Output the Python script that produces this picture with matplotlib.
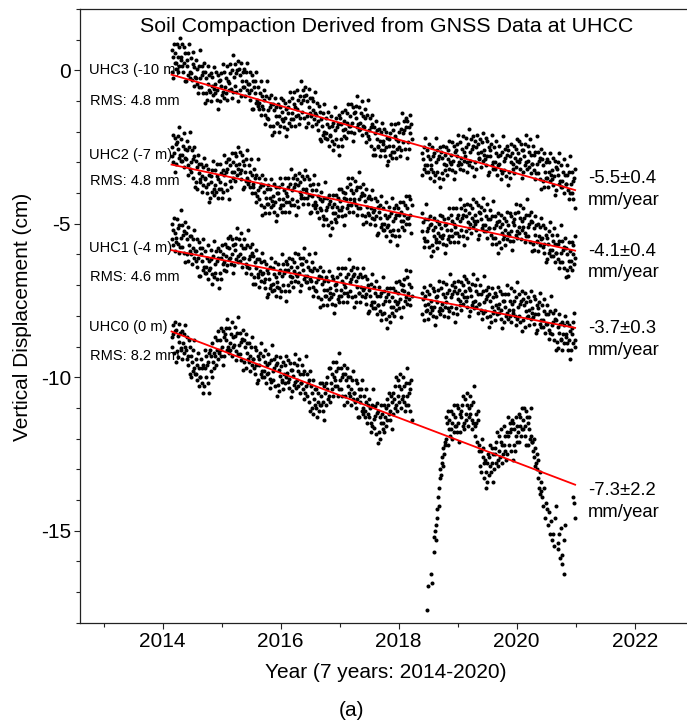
import numpy as np
import matplotlib
matplotlib.use('Agg')
import matplotlib.pyplot as plt

plt.rcParams['font.family'] = ['Liberation Sans', 'DejaVu Sans']
plt.rcParams['axes.unicode_minus'] = False

# observation window shared by the four stations (decimal year)
t_start, t_end = 2014.15, 2020.99

# vertical displacement (cm), 8 solutions per row (~1 month), nan = no solution
uhc3_txt = """
0.65 -0.05 0.45 -0.25 0.85 0.25 0.55 0.05
0.25 0.85 -0.05 0.45 0.75 0.15 1.05 0.35
0.45 0.15 0.85 -0.05 0.25 0.75 -0.35 0.55
-0.35 0.35 0.15 0.55 -0.15 0.85 -0.05 -0.25
0.4 -0.1 -0.3 0.2 0.6 -0.5 0.1 -0.2
-0.25 0.35 0.05 -0.45 -0.75 0.15 -0.55 0.65
-0.25 -0.55 0.15 -0.15 -0.75 -0.05 0.25 -1.05
-0.05 -0.75 -0.25 -0.95 0.15 -0.45 -0.15 -0.65
-0.7 -0.1 -1.0 -0.5 -0.2 -0.8 0.1 -0.6
-0.45 -0.75 -0.05 -0.95 -0.65 -0.15 -1.25 -0.35
-1.0 -0.3 -0.5 -0.1 -0.8 0.2 -0.7 -0.9
-0.05 -0.55 -0.75 -0.25 0.15 -0.95 -0.35 -0.65
-0.4 0.2 -0.1 -0.6 -0.9 0.0 -0.7 0.5
-0.2 -0.5 0.2 -0.1 -0.7 0.0 0.3 -1.0
0.05 -0.65 -0.15 -0.85 0.25 -0.35 -0.05 -0.55
-0.55 0.05 -0.85 -0.35 -0.05 -0.65 0.25 -0.45
-0.45 -0.75 -0.05 -0.95 -0.65 -0.15 -1.25 -0.35
-1.25 -0.55 -0.75 -0.35 -1.05 -0.05 -0.95 -1.15
-0.55 -1.05 -1.25 -0.75 -0.35 -1.45 -0.85 -1.15
-1.25 -0.65 -0.95 -1.45 -1.75 -0.85 -1.55 -0.35
-1.3 -1.6 -0.9 -1.2 -1.8 -1.1 -0.8 -2.1
-1.1 -1.8 -1.3 -2.0 -0.9 -1.5 -1.2 -1.7
-1.7 -1.1 -2.0 -1.5 -1.2 -1.8 -0.9 -1.6
-1.35 -1.65 -0.95 -1.85 -1.55 -1.05 -2.15 -1.25
-1.9 -1.2 -1.4 -1.0 -1.7 -0.7 -1.6 -1.8
-0.9 -1.4 -1.6 -1.1 -0.7 -1.8 -1.2 -1.5
-1.25 -0.65 -0.95 -1.45 -1.75 -0.85 -1.55 -0.35
-1.05 -1.35 -0.65 -0.95 -1.55 -0.85 -0.55 -1.85
-0.8 -1.5 -1.0 -1.7 -0.6 -1.2 -0.9 -1.4
-1.5 -0.9 -1.8 -1.3 -1.0 -1.6 -0.7 -1.4
-1.45 -1.75 -1.05 -1.95 -1.65 -1.15 -2.25 -1.35
-2.3 -1.6 -1.8 -1.4 -2.1 -1.1 -2.0 -2.2
-1.55 -2.05 -2.25 -1.75 -1.35 -2.45 -1.85 -2.15
-2.1 -1.5 -1.8 -2.3 -2.6 -1.7 -2.4 -1.2
-1.95 -2.25 -1.55 -1.85 -2.45 -1.75 -1.45 -2.75
-1.55 -2.25 -1.75 -2.45 -1.35 -1.95 -1.65 -2.15
-1.9 -1.3 -2.2 -1.7 -1.4 -2.0 -1.1 -1.8
-1.5 -1.8 -1.1 -2.0 -1.7 -1.2 -2.3 -1.4
-2.05 -1.35 -1.55 -1.15 -1.85 -0.85 -1.75 -1.95
-1.2 -1.7 -1.9 -1.4 -1.0 -2.1 -1.5 -1.8
-1.85 -1.25 -1.55 -2.05 -2.35 -1.45 -2.15 -0.95
-1.95 -2.25 -1.55 -1.85 -2.45 -1.75 -1.45 -2.75
-1.85 -2.55 -2.05 -2.75 -1.65 -2.25 -1.95 -2.45
-2.5 -1.9 -2.8 -2.3 -2.0 -2.6 -1.7 -2.4
-2.3 -2.6 -1.9 -2.8 -2.5 -2.0 -3.1 -2.2
-2.95 -2.25 -2.45 -2.05 -2.75 -1.75 -2.65 -2.85
-1.95 -2.45 -2.65 -2.15 -1.75 -2.85 -2.25 -2.55
-2.3 -1.7 -2.0 -2.5 -2.8 -1.9 -2.6 -1.4
-2.05 -2.35 -1.65 -1.95 -2.55 -1.85 -1.55 -2.85
-1.65 -2.35 -1.85 -2.55 -1.45 -2.05 -1.75 -2.25
nan nan nan nan nan nan nan nan
nan nan nan nan nan nan nan nan
-3.4 -2.7 -2.9 -2.5 -3.2 -2.2 -3.1 -3.3
-2.6 -3.1 -3.3 -2.8 -2.4 -3.5 -2.9 -3.2
-3.1 -2.5 -2.8 -3.3 -3.6 -2.7 -3.4 -2.2
-3.0 -3.3 -2.6 -2.9 -3.5 -2.8 -2.5 -3.8
-2.65 -3.35 -2.85 -3.55 -2.45 -3.05 -2.75 -3.25
-3.1 -2.5 -3.4 -2.9 -2.6 -3.2 -2.3 -3.0
-2.75 -3.05 -2.35 -3.25 -2.95 -2.45 -3.55 -2.65
-3.3 -2.6 -2.8 -2.4 -3.1 -2.1 -3.0 -3.2
-2.35 -2.85 -3.05 -2.55 -2.15 -3.25 -2.65 -2.95
-2.8 -2.2 -2.5 -3.0 -3.3 -2.4 -3.1 -1.9
-2.65 -2.95 -2.25 -2.55 -3.15 -2.45 -2.15 -3.45
-2.3 -3.0 -2.5 -3.2 -2.1 -2.7 -2.4 -2.9
-2.85 -2.25 -3.15 -2.65 -2.35 -2.95 -2.05 -2.75
-2.6 -2.9 -2.2 -3.1 -2.8 -2.3 -3.4 -2.5
-3.3 -2.6 -2.8 -2.4 -3.1 -2.1 -3.0 -3.2
-2.5 -3.0 -3.2 -2.7 -2.3 -3.4 -2.8 -3.1
-3.05 -2.45 -2.75 -3.25 -3.55 -2.65 -3.35 -2.15
-2.95 -3.25 -2.55 -2.85 -3.45 -2.75 -2.45 -3.75
-2.6 -3.3 -2.8 -3.5 -2.4 -3.0 -2.7 -3.2
-3.05 -2.45 -3.35 -2.85 -2.55 -3.15 -2.25 -2.95
-2.7 -3.0 -2.3 -3.2 -2.9 -2.4 -3.5 -2.6
-3.3 -2.6 -2.8 -2.4 -3.1 -2.1 -3.0 -3.2
-2.45 -2.95 -3.15 -2.65 -2.25 -3.35 -2.75 -3.05
-3.05 -2.45 -2.75 -3.25 -3.55 -2.65 -3.35 -2.15
-3.05 -3.35 -2.65 -2.95 -3.55 -2.85 -2.55 -3.85
-2.9 -3.6 -3.1 -3.8 -2.7 -3.3 -3.0 -3.5
-3.5 -2.9 -3.8 -3.3 -3.0 -3.6 -2.7 -3.4
-3.25 -3.55 -2.85 -3.75 -3.45 -2.95 -4.05 -3.15
-3.9 -3.2 -3.4 -3.0 -3.7 -2.7 -3.6 -3.8
-3.1 -3.6 -3.8 -3.3 -2.9 -4.0 -3.4 -3.7
-3.7 -3.1 -3.4 -3.9 -4.2 -3.3 -4.0 -2.8
-3.7 -4.0 -3.3 -3.6 -4.2 -3.5 -3.2 -4.5
"""

uhc2_txt = """
-2.5 -2.8 -2.1 -3.0 -2.7 -2.2 -3.3 -2.4
-3.05 -2.35 -2.55 -2.15 -2.85 -1.85 -2.75 -2.95
-2.25 -2.75 -2.95 -2.45 -2.05 -3.15 -2.55 -2.85
-2.9 -2.3 -2.6 -3.1 -3.4 -2.5 -3.2 -2.0
-3.0 -3.3 -2.6 -2.9 -3.5 -2.8 -2.5 -3.8
-2.95 -3.65 -3.15 -3.85 -2.75 -3.35 -3.05 -3.55
-3.65 -3.05 -3.95 -3.45 -3.15 -3.75 -2.85 -3.55
-3.5 -3.8 -3.1 -4.0 -3.7 -3.2 -4.3 -3.4
-4.15 -3.45 -3.65 -3.25 -3.95 -2.95 -3.85 -4.05
-3.25 -3.75 -3.95 -3.45 -3.05 -4.15 -3.55 -3.85
-3.65 -3.05 -3.35 -3.85 -4.15 -3.25 -3.95 -2.75
-3.4 -3.7 -3.0 -3.3 -3.9 -3.2 -2.9 -4.2
-2.9 -3.6 -3.1 -3.8 -2.7 -3.3 -3.0 -3.5
-3.3 -2.7 -3.6 -3.1 -2.8 -3.4 -2.5 -3.2
-3.05 -3.35 -2.65 -3.55 -3.25 -2.75 -3.85 -2.95
-3.8 -3.1 -3.3 -2.9 -3.6 -2.6 -3.5 -3.7
-3.1 -3.6 -3.8 -3.3 -2.9 -4.0 -3.4 -3.7
-3.8 -3.2 -3.5 -4.0 -4.3 -3.4 -4.1 -2.9
-3.9 -4.2 -3.5 -3.8 -4.4 -3.7 -3.4 -4.7
-3.75 -4.45 -3.95 -4.65 -3.55 -4.15 -3.85 -4.35
-4.35 -3.75 -4.65 -4.15 -3.85 -4.45 -3.55 -4.25
-4.1 -4.4 -3.7 -4.6 -4.3 -3.8 -4.9 -4.0
-4.7 -4.0 -4.2 -3.8 -4.5 -3.5 -4.4 -4.6
-3.7 -4.2 -4.4 -3.9 -3.5 -4.6 -4.0 -4.3
-4.1 -3.5 -3.8 -4.3 -4.6 -3.7 -4.4 -3.2
-3.9 -4.2 -3.5 -3.8 -4.4 -3.7 -3.4 -4.7
-3.55 -4.25 -3.75 -4.45 -3.35 -3.95 -3.65 -4.15
-4.05 -3.45 -4.35 -3.85 -3.55 -4.15 -3.25 -3.95
-3.85 -4.15 -3.45 -4.35 -4.05 -3.55 -4.65 -3.75
-4.6 -3.9 -4.1 -3.7 -4.4 -3.4 -4.3 -4.5
-3.9 -4.4 -4.6 -4.1 -3.7 -4.8 -4.2 -4.5
-4.55 -3.95 -4.25 -4.75 -5.05 -4.15 -4.85 -3.65
-4.55 -4.85 -4.15 -4.45 -5.05 -4.35 -4.05 -5.35
-4.25 -4.95 -4.45 -5.15 -4.05 -4.65 -4.35 -4.85
-4.65 -4.05 -4.95 -4.45 -4.15 -4.75 -3.85 -4.55
-4.25 -4.55 -3.85 -4.75 -4.45 -3.95 -5.05 -4.15
-4.7 -4.0 -4.2 -3.8 -4.5 -3.5 -4.4 -4.6
-3.7 -4.2 -4.4 -3.9 -3.5 -4.6 -4.0 -4.3
-4.2 -3.6 -3.9 -4.4 -4.7 -3.8 -4.5 -3.3
-4.2 -4.5 -3.8 -4.1 -4.7 -4.0 -3.7 -5.0
-4.05 -4.75 -4.25 -4.95 -3.85 -4.45 -4.15 -4.65
-4.7 -4.1 -5.0 -4.5 -4.2 -4.8 -3.9 -4.6
-4.55 -4.85 -4.15 -5.05 -4.75 -4.25 -5.35 -4.45
-5.3 -4.6 -4.8 -4.4 -5.1 -4.1 -5.0 -5.2
-4.5 -5.0 -5.2 -4.7 -4.3 -5.4 -4.8 -5.1
-5.05 -4.45 -4.75 -5.25 -5.55 -4.65 -5.35 -4.15
-4.9 -5.2 -4.5 -4.8 -5.4 -4.7 -4.4 -5.7
-4.5 -5.2 -4.7 -5.4 -4.3 -4.9 -4.6 -5.1
-4.9 -4.3 -5.2 -4.7 -4.4 -5.0 -4.1 -4.8
-4.5 -4.8 -4.1 -5.0 -4.7 -4.2 -5.3 -4.4
nan nan nan nan nan nan nan nan
nan nan nan nan nan nan nan nan
-5.25 -4.65 -4.95 -5.45 -5.75 -4.85 -5.55 -4.35
-5.25 -5.55 -4.85 -5.15 -5.75 -5.05 -4.75 -6.05
-5.0 -5.7 -5.2 -5.9 -4.8 -5.4 -5.1 -5.6
-5.5 -4.9 -5.8 -5.3 -5.0 -5.6 -4.7 -5.4
-5.15 -5.45 -4.75 -5.65 -5.35 -4.85 -5.95 -5.05
-5.7 -5.0 -5.2 -4.8 -5.5 -4.5 -5.4 -5.6
-4.7 -5.2 -5.4 -4.9 -4.5 -5.6 -5.0 -5.3
-5.1 -4.5 -4.8 -5.3 -5.6 -4.7 -5.4 -4.2
-4.9 -5.2 -4.5 -4.8 -5.4 -4.7 -4.4 -5.7
-4.55 -5.25 -4.75 -5.45 -4.35 -4.95 -4.65 -5.15
-5.0 -4.4 -5.3 -4.8 -4.5 -5.1 -4.2 -4.9
-4.7 -5.0 -4.3 -5.2 -4.9 -4.4 -5.5 -4.6
-5.35 -4.65 -4.85 -4.45 -5.15 -4.15 -5.05 -5.25
-4.55 -5.05 -5.25 -4.75 -4.35 -5.45 -4.85 -5.15
-5.15 -4.55 -4.85 -5.35 -5.65 -4.75 -5.45 -4.25
-5.15 -5.45 -4.75 -5.05 -5.65 -4.95 -4.65 -5.95
-4.9 -5.6 -5.1 -5.8 -4.7 -5.3 -5.0 -5.5
-5.4 -4.8 -5.7 -5.2 -4.9 -5.5 -4.6 -5.3
-5.05 -5.35 -4.65 -5.55 -5.25 -4.75 -5.85 -4.95
-5.55 -4.85 -5.05 -4.65 -5.35 -4.35 -5.25 -5.45
-4.6 -5.1 -5.3 -4.8 -4.4 -5.5 -4.9 -5.2
-5.1 -4.5 -4.8 -5.3 -5.6 -4.7 -5.4 -4.2
-5.1 -5.4 -4.7 -5.0 -5.6 -4.9 -4.6 -5.9
-4.95 -5.65 -5.15 -5.85 -4.75 -5.35 -5.05 -5.55
-5.6 -5.0 -5.9 -5.4 -5.1 -5.7 -4.8 -5.5
-5.45 -5.75 -5.05 -5.95 -5.65 -5.15 -6.25 -5.35
-6.15 -5.45 -5.65 -5.25 -5.95 -4.95 -5.85 -6.05
-5.35 -5.85 -6.05 -5.55 -5.15 -6.25 -5.65 -5.95
-5.95 -5.35 -5.65 -6.15 -6.45 -5.55 -6.25 -5.05
-5.95 -6.25 -5.55 -5.85 -6.45 -5.75 -5.45 -6.75
-5.8 -6.5 -6.0 -6.7 -5.6 -6.2 -5.9 -6.4
-6.2 -5.6 -6.5 -6.0 -5.7 -6.3 -5.4 -6.1
"""

uhc1_txt = """
-5.0 -5.5 -5.7 -5.2 -4.8 -5.9 -5.3 -5.6
-5.45 -4.85 -5.15 -5.65 -5.95 -5.05 -5.75 -4.55
-5.45 -5.75 -5.05 -5.35 -5.95 -5.25 -4.95 -6.25
-5.3 -6.0 -5.5 -6.2 -5.1 -5.7 -5.4 -5.9
-6.0 -5.4 -6.3 -5.8 -5.5 -6.1 -5.2 -5.9
-5.9 -6.2 -5.5 -6.4 -6.1 -5.6 -6.7 -5.8
-6.7 -6.0 -6.2 -5.8 -6.5 -5.5 -6.4 -6.6
-5.9 -6.4 -6.6 -6.1 -5.7 -6.8 -6.2 -6.5
-6.45 -5.85 -6.15 -6.65 -6.95 -6.05 -6.75 -5.55
-6.3 -6.6 -5.9 -6.2 -6.8 -6.1 -5.8 -7.1
-5.9 -6.6 -6.1 -6.8 -5.7 -6.3 -6.0 -6.5
-6.25 -5.65 -6.55 -6.05 -5.75 -6.35 -5.45 -6.15
-5.8 -6.1 -5.4 -6.3 -6.0 -5.5 -6.6 -5.7
-6.35 -5.65 -5.85 -5.45 -6.15 -5.15 -6.05 -6.25
-5.5 -6.0 -6.2 -5.7 -5.3 -6.4 -5.8 -6.1
-6.1 -5.5 -5.8 -6.3 -6.6 -5.7 -6.4 -5.2
-6.15 -6.45 -5.75 -6.05 -6.65 -5.95 -5.65 -6.95
-6.05 -6.75 -6.25 -6.95 -5.85 -6.45 -6.15 -6.65
-6.75 -6.15 -7.05 -6.55 -6.25 -6.85 -5.95 -6.65
-6.6 -6.9 -6.2 -7.1 -6.8 -6.3 -7.4 -6.5
-7.3 -6.6 -6.8 -6.4 -7.1 -6.1 -7.0 -7.2
-6.45 -6.95 -7.15 -6.65 -6.25 -7.35 -6.75 -7.05
-6.9 -6.3 -6.6 -7.1 -7.4 -6.5 -7.2 -6.0
-6.7 -7.0 -6.3 -6.6 -7.2 -6.5 -6.2 -7.5
-6.3 -7.0 -6.5 -7.2 -6.1 -6.7 -6.4 -6.9
-6.75 -6.15 -7.05 -6.55 -6.25 -6.85 -5.95 -6.65
-6.4 -6.7 -6.0 -6.9 -6.6 -6.1 -7.2 -6.3
-7.0 -6.3 -6.5 -6.1 -6.8 -5.8 -6.7 -6.9
-6.2 -6.7 -6.9 -6.4 -6.0 -7.1 -6.5 -6.8
-6.85 -6.25 -6.55 -7.05 -7.35 -6.45 -7.15 -5.95
-6.9 -7.2 -6.5 -6.8 -7.4 -6.7 -6.4 -7.7
-6.75 -7.45 -6.95 -7.65 -6.55 -7.15 -6.85 -7.35
-7.35 -6.75 -7.65 -7.15 -6.85 -7.45 -6.55 -7.25
-7.1 -7.4 -6.7 -7.6 -7.3 -6.8 -7.9 -7.0
-7.65 -6.95 -7.15 -6.75 -7.45 -6.45 -7.35 -7.55
-6.65 -7.15 -7.35 -6.85 -6.45 -7.55 -6.95 -7.25
-7.05 -6.45 -6.75 -7.25 -7.55 -6.65 -7.35 -6.15
-6.9 -7.2 -6.5 -6.8 -7.4 -6.7 -6.4 -7.7
-6.65 -7.35 -6.85 -7.55 -6.45 -7.05 -6.75 -7.25
-7.25 -6.65 -7.55 -7.05 -6.75 -7.35 -6.45 -7.15
-7.1 -7.4 -6.7 -7.6 -7.3 -6.8 -7.9 -7.0
-7.85 -7.15 -7.35 -6.95 -7.65 -6.65 -7.55 -7.75
-7.05 -7.55 -7.75 -7.25 -6.85 -7.95 -7.35 -7.65
-7.65 -7.05 -7.35 -7.85 -8.15 -7.25 -7.95 -6.75
-7.6 -7.9 -7.2 -7.5 -8.1 -7.4 -7.1 -8.4
-7.3 -8.0 -7.5 -8.2 -7.1 -7.7 -7.4 -7.9
-7.7 -7.1 -8.0 -7.5 -7.2 -7.8 -6.9 -7.6
-7.25 -7.55 -6.85 -7.75 -7.45 -6.95 -8.05 -7.15
-7.7 -7.0 -7.2 -6.8 -7.5 -6.5 -7.4 -7.6
-6.75 -7.25 -7.45 -6.95 -6.55 -7.65 -7.05 -7.35
nan nan nan nan nan nan nan nan
nan nan nan nan nan nan nan nan
-7.25 -7.95 -7.45 -8.15 -7.05 -7.65 -7.35 -7.85
-7.8 -7.2 -8.1 -7.6 -7.3 -7.9 -7.0 -7.7
-7.5 -7.8 -7.1 -8.0 -7.7 -7.2 -8.3 -7.4
-8.05 -7.35 -7.55 -7.15 -7.85 -6.85 -7.75 -7.95
-7.1 -7.6 -7.8 -7.3 -6.9 -8.0 -7.4 -7.7
-7.55 -6.95 -7.25 -7.75 -8.05 -7.15 -7.85 -6.65
-7.4 -7.7 -7.0 -7.3 -7.9 -7.2 -6.9 -8.2
-7.05 -7.75 -7.25 -7.95 -6.85 -7.45 -7.15 -7.65
-7.5 -6.9 -7.8 -7.3 -7.0 -7.6 -6.7 -7.4
-7.2 -7.5 -6.8 -7.7 -7.4 -6.9 -8.0 -7.1
-7.85 -7.15 -7.35 -6.95 -7.65 -6.65 -7.55 -7.75
-7.0 -7.5 -7.7 -7.2 -6.8 -7.9 -7.3 -7.6
-7.6 -7.0 -7.3 -7.8 -8.1 -7.2 -7.9 -6.7
-7.55 -7.85 -7.15 -7.45 -8.05 -7.35 -7.05 -8.35
-7.3 -8.0 -7.5 -8.2 -7.1 -7.7 -7.4 -7.9
-7.85 -7.25 -8.15 -7.65 -7.35 -7.95 -7.05 -7.75
-7.6 -7.9 -7.2 -8.1 -7.8 -7.3 -8.4 -7.5
-8.2 -7.5 -7.7 -7.3 -8.0 -7.0 -7.9 -8.1
-7.3 -7.8 -8.0 -7.5 -7.1 -8.2 -7.6 -7.9
-7.8 -7.2 -7.5 -8.0 -8.3 -7.4 -8.1 -6.9
-7.7 -8.0 -7.3 -7.6 -8.2 -7.5 -7.2 -8.5
-7.45 -8.15 -7.65 -8.35 -7.25 -7.85 -7.55 -8.05
-8.0 -7.4 -8.3 -7.8 -7.5 -8.1 -7.2 -7.9
-7.75 -8.05 -7.35 -8.25 -7.95 -7.45 -8.55 -7.65
-8.45 -7.75 -7.95 -7.55 -8.25 -7.25 -8.15 -8.35
-7.65 -8.15 -8.35 -7.85 -7.45 -8.55 -7.95 -8.25
-8.25 -7.65 -7.95 -8.45 -8.75 -7.85 -8.55 -7.35
-8.3 -8.6 -7.9 -8.2 -8.8 -8.1 -7.8 -9.1
-8.15 -8.85 -8.35 -9.05 -7.95 -8.55 -8.25 -8.75
-8.8 -8.2 -9.1 -8.6 -8.3 -8.9 -8.0 -8.7
-8.6 -8.9 -8.2 -9.1 -8.8 -8.3 -9.4 -8.5
-9.1 -8.4 -8.6 -8.2 -8.9 -7.9 -8.8 -9.0
"""

uhc0_txt = """
-8.7 -9.0 -8.3 -8.6 -9.2 -8.5 -8.2 -9.5
-8.45 -9.15 -8.65 -9.35 -8.25 -8.85 -8.55 -9.05
-9.1 -8.5 -9.4 -8.9 -8.6 -9.2 -8.3 -9.0
-9.1 -9.4 -8.7 -9.6 -9.3 -8.8 -9.9 -9.0
-10.0 -9.3 -9.5 -9.1 -9.8 -8.8 -9.7 -9.9
-9.4 -9.9 -10.1 -9.6 -9.2 -10.3 -9.7 -10.0
-10.0 -9.4 -9.7 -10.2 -10.5 -9.6 -10.3 -9.1
-9.7 -10.0 -9.3 -9.6 -10.2 -9.5 -9.2 -10.5
-9.1 -9.8 -9.3 -10.0 -8.9 -9.5 -9.2 -9.7
-9.3 -8.7 -9.6 -9.1 -8.8 -9.4 -8.5 -9.2
-8.8 -9.1 -8.4 -9.3 -9.0 -8.5 -9.6 -8.7
-9.3 -8.6 -8.8 -8.4 -9.1 -8.1 -9.0 -9.2
-8.4 -8.9 -9.1 -8.6 -8.2 -9.3 -8.7 -9.0
-8.95 -8.35 -8.65 -9.15 -9.45 -8.55 -9.25 -8.05
-8.95 -9.25 -8.55 -8.85 -9.45 -8.75 -8.45 -9.75
-8.8 -9.5 -9.0 -9.7 -8.6 -9.2 -8.9 -9.4
-9.5 -8.9 -9.8 -9.3 -9.0 -9.6 -8.7 -9.4
-9.4 -9.7 -9.0 -9.9 -9.6 -9.1 -10.2 -9.3
-10.1 -9.4 -9.6 -9.2 -9.9 -8.9 -9.8 -10.0
-9.3 -9.8 -10.0 -9.5 -9.1 -10.2 -9.6 -9.9
-9.85 -9.25 -9.55 -10.05 -10.35 -9.45 -10.15 -8.95
-9.8 -10.1 -9.4 -9.7 -10.3 -9.6 -9.3 -10.6
-9.55 -10.25 -9.75 -10.45 -9.35 -9.95 -9.65 -10.15
-10.1 -9.5 -10.4 -9.9 -9.6 -10.2 -9.3 -10.0
-9.85 -10.15 -9.45 -10.35 -10.05 -9.55 -10.65 -9.75
-10.45 -9.75 -9.95 -9.55 -10.25 -9.25 -10.15 -10.35
-9.6 -10.1 -10.3 -9.8 -9.4 -10.5 -9.9 -10.2
-10.2 -9.6 -9.9 -10.4 -10.7 -9.8 -10.5 -9.3
-10.3 -10.6 -9.9 -10.2 -10.8 -10.1 -9.8 -11.1
-10.3 -11.0 -10.5 -11.2 -10.1 -10.7 -10.4 -10.9
-11.0 -10.4 -11.3 -10.8 -10.5 -11.1 -10.2 -10.9
-10.6 -10.9 -10.2 -11.1 -10.8 -10.3 -11.4 -10.5
-10.9 -10.2 -10.4 -10.0 -10.7 -9.7 -10.6 -10.8
-9.7 -10.2 -10.4 -9.9 -9.5 -10.6 -10.0 -10.3
-10.1 -9.5 -9.8 -10.3 -10.6 -9.7 -10.4 -9.2
-10.1 -10.4 -9.7 -10.0 -10.6 -9.9 -9.6 -10.9
-9.9 -10.6 -10.1 -10.8 -9.7 -10.3 -10.0 -10.5
-10.6 -10.0 -10.9 -10.4 -10.1 -10.7 -9.8 -10.5
-10.5 -10.8 -10.1 -11.0 -10.7 -10.2 -11.3 -10.4
-11.3 -10.6 -10.8 -10.4 -11.1 -10.1 -11.0 -11.2
-10.6 -11.1 -11.3 -10.8 -10.4 -11.5 -10.9 -11.2
-11.3 -10.7 -11.0 -11.5 -11.8 -10.9 -11.6 -10.4
-11.35 -11.65 -10.95 -11.25 -11.85 -11.15 -10.85 -12.15
-11.1 -11.8 -11.3 -12.0 -10.9 -11.5 -11.2 -11.7
-11.5 -10.9 -11.8 -11.3 -11.0 -11.6 -10.7 -11.4
-10.9 -11.2 -10.5 -11.4 -11.1 -10.6 -11.7 -10.8
-11.2 -10.5 -10.7 -10.3 -11.0 -10.0 -10.9 -11.1
-10.1 -10.6 -10.8 -10.3 -9.9 -11.0 -10.4 -10.7
-10.6 -10.0 -10.3 -10.8 -11.1 -10.2 -10.9 -9.7
-10.6 -10.9 -10.2 -10.5 -11.1 -10.4 -10.1 -11.4
nan nan nan nan nan nan nan nan
nan nan nan nan nan nan nan nan
nan nan nan nan nan nan nan nan
-17.6 nan nan -16.8 nan nan nan nan
-16.4 -16.7 nan nan -15.7 -15.2 -15.0 -14.8
-15.3 -14.6 -14.3 -13.9 -14.2 -13.6 -13.3 -13.0
-13.2 -12.8 -12.6 -12.9 -12.3 -12.5 -12.1 -12.2
-11.3 -12.0 -11.5 -12.2 -11.1 -11.7 -11.4 -11.9
-11.7 -11.1 -12.0 -11.5 -11.2 -11.8 -10.9 -11.6
-11.3 -11.6 -10.9 -11.8 -11.5 -11.0 -12.1 -11.2
-11.8 -11.1 -11.3 -10.9 -11.6 -10.6 -11.5 -11.7
-10.7 -11.2 -11.4 -10.9 -10.5 -11.6 -11.0 -11.3
-11.2 -10.6 -10.9 -11.4 -11.7 -10.8 -11.5 -10.3
-11.6 -11.9 -11.2 -11.5 -12.1 -11.4 -11.1 -12.4
-12.2 -12.9 -12.4 -13.1 -12.0 -12.6 -12.3 -12.8
-13.3 -12.7 -13.6 -13.1 -12.8 -13.4 -12.5 -13.2
-12.6 -12.9 -12.2 -13.1 -12.8 -12.3 -13.4 -12.5
-13.0 -12.3 -12.5 -12.1 -12.8 -11.8 -12.7 -12.9
-11.9 -12.4 -12.6 -12.1 -11.7 -12.8 -12.2 -12.5
-12.2 -11.6 -11.9 -12.4 -12.7 -11.8 -12.5 -11.3
-11.9 -12.2 -11.5 -11.8 -12.4 -11.7 -11.4 -12.7
-11.5 -12.2 -11.7 -12.4 -11.3 -11.9 -11.6 -12.1
-11.8 -11.2 -12.1 -11.6 -11.3 -11.9 -11.0 -11.7
-11.4 -11.7 -11.0 -11.9 -11.6 -11.1 -12.2 -11.3
-12.2 -11.5 -11.7 -11.3 -12.0 -11.0 -11.9 -12.1
-12.1 -12.4 -12.0 -12.6 -12.9 -12.3 -12.8 -12.5
-13.0 -12.7 -13.3 -13.6 -13.1 -13.8 -13.4 -13.7
-13.9 nan -14.2 -13.6 nan -14.6 -14.1 nan
-14.3 nan -14.8 nan -14.4 -15.1 nan -14.7
nan -15.3 nan -15.1 -15.5 nan -14.6 nan
-14.2 nan -15.4 -15.6 nan -15.1 -15.9 nan
-14.9 -15.8 -16.1 nan -15.3 -16.4 -14.8 nan
nan nan nan nan nan nan nan nan
nan nan nan nan -13.9 -14.1 nan -14.6
"""

stations = ['UHC3 (-10 m)', 'UHC2 (-7 m)', 'UHC1 (-4 m)', 'UHC0 (0 m)']
rms_text = ['RMS: 4.8 mm', 'RMS: 4.8 mm', 'RMS: 4.6 mm', 'RMS: 8.2 mm']
rate_text = ['-5.5\u00b10.4', '-4.1\u00b10.4', '-3.7\u00b10.3', '-7.3\u00b12.2']
rates = [-5.5, -4.1, -3.7, -7.3]          # mm/year
fit_start = [-0.14, -3.07, -5.86, -8.51]  # cm at t_start

series_txt = [uhc3_txt, uhc2_txt, uhc1_txt, uhc0_txt]

# label anchors (cm)
station_y = [0.0, -2.75, -5.8, -8.37]
rms_y = [-1.0, -3.6, -6.75, -9.3]
rate_y = [-3.53, -5.91, -8.42, -13.7]
unit_y = [-4.23, -6.6, -9.14, -14.4]

fig = plt.figure(figsize=(6.87, 7.26), dpi=100)
ax = fig.add_axes([0.1164, 0.1423, 0.8836, 0.8453])

for i, txt in enumerate(series_txt):
    vals = np.array(txt.split(), dtype=float)
    t = np.linspace(t_start, t_end, vals.size)
    ax.plot(t, vals, linestyle='none', marker='o', markersize=2.9,
            markeredgewidth=0, color='black', zorder=2)

    tl = np.array([t_start, t_end])
    ax.plot(tl, fit_start[i] + rates[i] / 10.0 * (tl - t_start),
            color='red', linewidth=1.3, zorder=3)

    ax.text(2012.75, station_y[i], stations[i], fontsize=10.5,
            va='center', ha='left', zorder=1)
    ax.text(2012.77, rms_y[i], rms_text[i], fontsize=10.5,
            va='center', ha='left', zorder=1)
    ax.text(2021.21, rate_y[i], rate_text[i], fontsize=13.3,
            va='center', ha='left', clip_on=False)
    ax.text(2021.21, unit_y[i], 'mm/year', fontsize=13.3,
            va='center', ha='left', clip_on=False)

ax.text(0.505, 0.9715, 'Soil Compaction Derived from GNSS Data at UHCC',
        transform=ax.transAxes, ha='center', va='center', fontsize=15.4)

ax.set_xlim(2012.598, 2022.886)
ax.set_ylim(-18, 2)
ax.set_xticks([2014, 2016, 2018, 2020, 2022])
ax.set_xticks([2013, 2015, 2017, 2019, 2021], minor=True)
ax.set_yticks([-15, -10, -5, 0])
ax.set_yticks(np.arange(-18, 3, 1), minor=True)

ax.spines['right'].set_visible(False)
for s in ['left', 'bottom', 'top']:
    ax.spines[s].set_linewidth(0.9)
    ax.spines[s].set_color('#222222')
ax.tick_params(which='major', direction='out', length=4.5, width=0.8,
               labelsize=15, pad=2, color='#222222')
ax.tick_params(which='minor', direction='out', length=2.6, width=0.8,
               color='#222222')

fig.text(23 / 687, 1 - 317 / 726, 'Vertical Displacement (cm)', rotation=90,
         ha='center', va='center', fontsize=15)
fig.text(386 / 687, 1 - 672 / 726, 'Year (7 years: 2014-2020)',
         ha='center', va='center', fontsize=15)
fig.text(351 / 687, 1 - 710 / 726, '(a)', ha='center', va='center', fontsize=15)

fig.savefig('out.png', dpi=100)
